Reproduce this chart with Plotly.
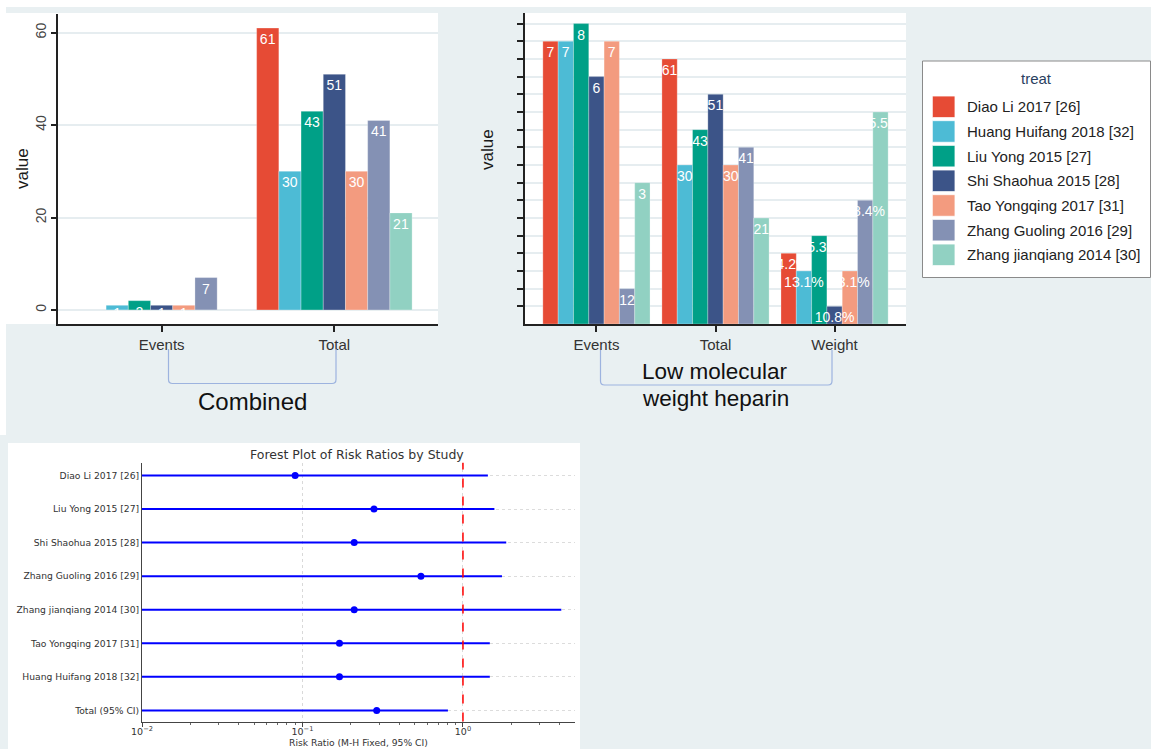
import plotly.graph_objects as go

W, H = 1151, 749


def fx(px):
    return px / W


def fy(py):
    return 1 - py / H


# ---- data -------------------------------------------------------------
studies = [
    "Diao Li 2017 [26]",
    "Huang Huifang 2018 [32]",
    "Liu Yong 2015 [27]",
    "Shi Shaohua 2015 [28]",
    "Tao Yongqing 2017 [31]",
    "Zhang Guoling 2016 [29]",
    "Zhang jianqiang 2014 [30]",
]
colors = ["#E64B35", "#4DBBD5", "#00A087", "#3C5488", "#F39B7F", "#8491B4", "#91D1C2"]

# Combined group (numeric value axis)
combined_cats = ["Events", "Total"]
combined_events = [None, 1, 2, 1, 1, 7, None]
combined_total = [61, 30, 43, 51, 30, 41, 21]

# Low molecular weight heparin group (values kept as text -> discrete value axis)
lmwh_cats = ["Events", "Total", "Weight"]
lmwh_events = ["7", "7", "8", "6", "7", "12", "3"]
lmwh_total = ["61", "30", "43", "51", "30", "41", "21"]
lmwh_weight = ["14.2%", "13.1%", "15.3%", "10.8%", "13.1%", "28.4%", "45.5%"]

# Forest plot
forest_studies = [
    "Diao Li 2017 [26]",
    "Liu Yong 2015 [27]",
    "Shi Shaohua 2015 [28]",
    "Zhang Guoling 2016 [29]",
    "Zhang jianqiang 2014 [30]",
    "Tao Yongqing 2017 [31]",
    "Huang Huifang 2018 [32]",
    "Total (95% CI)",
]
forest_rr = [0.090, 0.279, 0.210, 0.547, 0.210, 0.170, 0.170, 0.290]
forest_lo = [0.0055, 0.0050, 0.0024, 0.0060, 0.0011, 0.0020, 0.0020, 0.0040]
forest_hi = [1.43, 1.57, 1.86, 1.75, 4.10, 1.47, 1.47, 0.806]

# discrete levels of the text-valued axis, in sorted order
lmwh_levels = sorted(set(lmwh_events + lmwh_total + lmwh_weight))


def level_of(v):
    return lmwh_levels.index(v) + 1


FONT = "Liberation Sans"
MPL = "DejaVu Sans"
BG = "#e9f0f2"
GRID = "#e6edf0"

fig = go.Figure()

bar_text = dict(
    textposition="inside",
    insidetextanchor="end",
    textangle=0,
    constraintext="none",
    textfont=dict(color="white", size=14, family=FONT),
)


def add_bar_panel(cats, values_per_study, labels_per_study, xa, ya):
    # coloured bars first, then a transparent copy carrying the labels so the
    # labels sit on top of every bar in the group
    for i, name in enumerate(studies):
        fig.add_trace(go.Bar(
            x=cats, y=values_per_study[i], name=name, offsetgroup=str(i),
            marker=dict(color=colors[i], line=dict(color="rgba(255,255,255,0.45)", width=0.6)),
            xaxis=xa, yaxis=ya, showlegend=False, hoverinfo="skip"))
    for i, name in enumerate(studies):
        fig.add_trace(go.Bar(
            x=cats, y=values_per_study[i], name=name, offsetgroup=str(i),
            text=labels_per_study[i],
            marker=dict(color="rgba(0,0,0,0)", line=dict(width=0)),
            xaxis=xa, yaxis=ya, showlegend=False, hoverinfo="skip", **bar_text))


comb_vals = [[combined_events[i], combined_total[i]] for i in range(len(studies))]
comb_text = [[None if v is None else str(v) for v in row] for row in comb_vals]
add_bar_panel(combined_cats, comb_vals, comb_text, "x", "y")

lmwh_text = [[lmwh_events[i], lmwh_total[i], lmwh_weight[i]] for i in range(len(studies))]
lmwh_vals = [[level_of(v) for v in row] for row in lmwh_text]
add_bar_panel(lmwh_cats, lmwh_vals, lmwh_text, "x2", "y2")

ci_x, ci_y = [], []
for s, lo, hi in zip(forest_studies, forest_lo, forest_hi):
    ci_x += [lo, hi, None]
    ci_y += [s, s, None]
fig.add_trace(go.Scatter(x=ci_x, y=ci_y, mode="lines", line=dict(color="#0000ff", width=2),
                         xaxis="x3", yaxis="y3", showlegend=False, hoverinfo="skip"))
fig.add_trace(go.Scatter(x=forest_rr, y=forest_studies, mode="markers",
                         marker=dict(color="#0000ff", size=7),
                         xaxis="x3", yaxis="y3", showlegend=False, hoverinfo="skip"))

# ---- panels, brackets, legend -----------------------------------------
shapes = []


def rect(x0, y0, x1, y1, fill, line_color=None, width=0, layer="below"):
    shapes.append(dict(type="rect", xref="paper", yref="paper",
                       x0=fx(x0), x1=fx(x1), y0=fy(y1), y1=fy(y0),
                       fillcolor=fill, layer=layer,
                       line=dict(color=line_color or fill, width=width)))


rect(0, 0, W, 7, "white")
rect(0, 0, 6, 435, "white")
rect(6, 13, 438, 324, "white")
rect(8, 443, 580, H, "white")


def bracket(xl, xr, ytop, ybot, r=4):
    p = (f"M {fx(xl)},{fy(ytop)} L {fx(xl)},{fy(ybot - r)} "
         f"Q {fx(xl)},{fy(ybot)} {fx(xl + r)},{fy(ybot)} "
         f"L {fx(xr - r)},{fy(ybot)} "
         f"Q {fx(xr)},{fy(ybot)} {fx(xr)},{fy(ybot - r)} "
         f"L {fx(xr)},{fy(ytop)}")
    shapes.append(dict(type="path", xref="paper", yref="paper", path=p,
                       line=dict(color="#9db3df", width=1.2)))


bracket(168.5, 336, 349, 383.5)
bracket(600.5, 832, 350, 385)

# legend box
rect(922.5, 61, 1150.5, 277.5, "white", line_color="#8a8a8a", width=1, layer="above")
annotations = []
annotations.append(dict(text="treat", x=fx(1036.5), y=fy(78), xref="paper", yref="paper",
                        showarrow=False, xanchor="center", yanchor="middle",
                        font=dict(family=FONT, size=15, color="#2a3f5f")))
for i, (name, c) in enumerate(zip(studies, colors)):
    yc = 106.8 + i * 24.67
    rect(932.3, yc - 10.8, 955, yc + 10.8, c, line_color="rgba(255,255,255,0.8)", width=1, layer="above")
    annotations.append(dict(text=name, x=fx(965), y=fy(yc), xref="paper", yref="paper",
                            showarrow=False, xanchor="left", yanchor="middle",
                            font=dict(family=FONT, size=15, color="#222222")))

# red reference line at RR = 1
shapes.append(dict(type="line", xref="x3", yref="y3 domain", x0=1, x1=1, y0=0, y1=1,
                   line=dict(color="#ff0000", width=1.5, dash="dash"), layer="above"))


def text_ann(t, x, y, size, color="#111111", family=FONT, angle=0):
    annotations.append(dict(text=t, x=fx(x), y=fy(y), xref="paper", yref="paper",
                            showarrow=False, xanchor="center", yanchor="middle",
                            textangle=angle, font=dict(family=family, size=size, color=color)))


text_ann("Combined", 252, 401, 24)
text_ann("Low molecular", 715, 372, 22.5)
text_ann("weight heparin", 715, 399, 22.5)
text_ann("value", 22, 169, 17, color="#1a1a1a", angle=-90)
text_ann("value", 488, 150, 17, color="#1a1a1a", angle=-90)
text_ann("Forest Plot of Risk Ratios by Study", 357, 454.5, 12.5, color="#333333", family=MPL)
text_ann("Risk Ratio (M-H Fixed, 95% CI)", 358, 742, 9.2, color="#333333", family=MPL)

axis_line = dict(showline=True, linecolor="#222222", linewidth=1.5, zeroline=False,
                 ticks="outside", tickcolor="#222222", tickwidth=1.5, automargin=False)

fig.update_layout(
    width=W, height=H, autosize=False,
    margin=dict(l=0, r=0, t=0, b=0, autoexpand=False),
    paper_bgcolor=BG, plot_bgcolor="white",
    barmode="group", bargap=0.1, bargroupgap=0,
    showlegend=False,
    shapes=shapes, annotations=annotations,
    xaxis=dict(domain=[fx(58), fx(438)], anchor="y", type="category",
               range=[-0.6, 1.6], showgrid=False, ticklen=6,
               tickfont=dict(family=FONT, size=15, color="#333333"), **axis_line),
    yaxis=dict(domain=[fy(324), fy(14)], anchor="x", range=[-3.05, 64.05],
               tickvals=[0, 20, 40, 60], tickangle=-90, ticklen=5,
               showgrid=True, gridcolor=GRID, gridwidth=2,
               tickfont=dict(family=FONT, size=14, color="#444444"), **axis_line),
    xaxis2=dict(domain=[fx(525), fx(906)], anchor="y2", type="category",
                range=[-0.6, 2.6], showgrid=False, ticklen=6,
                tickfont=dict(family=FONT, size=15, color="#333333"), **axis_line),
    yaxis2=dict(domain=[fy(324), fy(13)], anchor="x2", range=[0, 17.6],
                tickvals=list(range(1, len(lmwh_levels) + 1)), showticklabels=False,
                ticklen=6, showgrid=True, gridcolor=GRID, gridwidth=2, **axis_line),
    xaxis3=dict(domain=[fx(142), fx(574.5)], anchor="y3", type="log", automargin=False,
                range=[-2, 0.695],
                tickvals=[0.01, 0.1, 1],
                ticktext=["10<sup>−2</sup>", "10<sup>−1</sup>", "10<sup>0</sup>"],
                ticks="outside", ticklen=4, tickcolor="#444444", ticklabelstandoff=-3,
                showline=True, linecolor="#444444", linewidth=1, zeroline=False,
                showgrid=True, gridcolor="#d9d9d9", griddash="dot", gridwidth=1,
                minor=dict(tickvals=[0.02, 0.03, 0.04, 0.05, 0.06, 0.07, 0.08, 0.09,
                                     0.2, 0.3, 0.4, 0.5, 0.6, 0.7, 0.8, 0.9, 2, 3, 4],
                           ticks="outside", ticklen=2, tickcolor="#666666", showgrid=False),
                tickfont=dict(family=MPL, size=9.5, color="#333333")),
    yaxis3=dict(domain=[fy(721.5), fy(462.7)], anchor="x3", type="category", automargin=False,
                categoryorder="array", categoryarray=forest_studies,
                range=[7.33, -0.38], ticks="",
                showline=True, linecolor="#444444", linewidth=1, zeroline=False,
                showgrid=True, gridcolor="#dcdcdc", griddash="dot", gridwidth=1,
                tickfont=dict(family=MPL, size=9.2, color="#333333")),
)

fig.write_html("out.html")
